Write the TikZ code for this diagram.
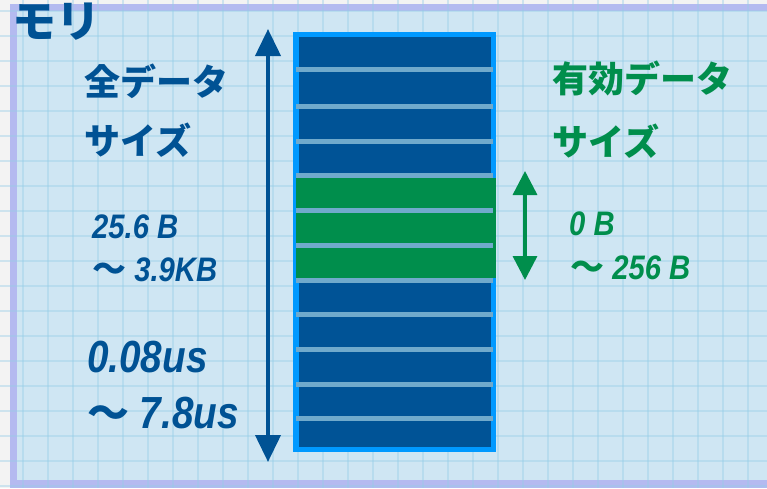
\documentclass[tikz,border=0pt]{standalone}
\usepackage{fontspec}
\newfontfamily\jpfont{Noto Sans CJK JP}
\newfontfamily\numfont{Liberation Sans}[FakeStretch=0.86]
\usetikzlibrary{arrows.meta}
\definecolor{dblue}{RGB}{0,82,148}
\definecolor{cellblue}{RGB}{0,83,150}
\definecolor{edgeblue}{RGB}{0,153,255}
\definecolor{sepc}{RGB}{112,170,204}
\definecolor{dgreen}{RGB}{0,142,76}
\definecolor{panelfill}{RGB}{207,230,243}
\definecolor{panelborder}{RGB}{180,186,240}
\definecolor{bggray}{RGB}{243,243,243}
\definecolor{gridc}{RGB}{150,205,232}
\tikzset{
  jptext/.style={anchor=base west, inner sep=0pt, font={\jpfont\bfseries\fontsize{36}{40}\selectfont}},
  smallnum/.style={anchor=base west, inner sep=0pt, font={\numfont\bfseries\itshape\fontsize{34}{40}\selectfont}},
  bignum/.style={anchor=base west, inner sep=0pt, font={\numfont\bfseries\itshape\fontsize{45}{50}\selectfont}},
  sepbar/.style={fill=sepc},
  bigarrow/.style={line width=4pt, {Triangle[length=27pt,width=25pt]}-{Triangle[length=27pt,width=25pt]}},
  greenarrow/.style={line width=3.5pt, draw=dgreen, {Triangle[length=24pt,width=24pt]}-{Triangle[length=24pt,width=24pt]}}
}
\begin{document}
\begin{tikzpicture}[x=1pt,y=-1pt]
\useasboundingbox (0,0) rectangle (767,488);
% backgrounds
\fill[bggray] (0,0) rectangle (767,488);
\fill[panelborder] (10,4) rectangle (767,488);
\fill[panelfill] (17,11) rectangle (767,480);
% grid
\foreach \x in {-2,23,...,773} \draw[gridc, line width=1.3pt, opacity=0.4] (\x,0) -- (\x,488);
\foreach \y in {11,36,...,486} \draw[gridc, line width=1.3pt, opacity=0.4] (0,\y) -- (767,\y);
% memory column
\node[fill=edgeblue, inner sep=0pt, minimum width=203pt, minimum height=420pt, anchor=north west] (mem) at (293,32) {};
\fill[cellblue] (299,37) rectangle (491,447);
\fill[dgreen] (296,178) rectangle (496,278);
\foreach \s in {67,104,139,173,208,243,278,312,347,382,416}
  \fill[sepbar] (296,\s) rectangle (493,\s+5);
% left arrow
\coordinate (ltop) at (268,29);
\coordinate (lbot) at (268,462);
\draw[bigarrow, draw=dblue] (ltop) -- (lbot);
% green arrow
\coordinate (gtop) at (525,171);
\coordinate (gbot) at (525,280);
\draw[greenarrow] (gtop) -- (gbot);
% texts
\node[anchor=base west, inner sep=0pt, text=dblue, font={\jpfont\bfseries\fontsize{44}{48}\selectfont}] (title) at (12,37) {モリ};
\node[jptext, text=dblue] (all1) at (84,95) {全データ};
\node[jptext, text=dblue] (all2) at (84,154) {サイズ};
\node[jptext, text=dgreen] (eff1) at (552,92) {有効データ};
\node[jptext, text=dgreen] (eff2) at (552,155) {サイズ};
\node[smallnum, text=dblue] (sz1) at (92,238) {25.6 B};
\node[smallnum, text=dblue] (sz2) at (92,281) {{\jpfont\bfseries\upshape ～} 3.9KB};
\node[bignum, text=dblue] (t1) at (87,372) {0.08us};
\node[bignum, text=dblue] (t2) at (87,428) {{\jpfont\bfseries\upshape\fontsize{42}{46}\selectfont ～} 7.8us};
\node[smallnum, text=dgreen] (g1) at (569,235) {0 B};
\node[smallnum, text=dgreen] (g2) at (570,279) {{\jpfont\bfseries\upshape ～} 256 B};
\end{tikzpicture}
\end{document}
